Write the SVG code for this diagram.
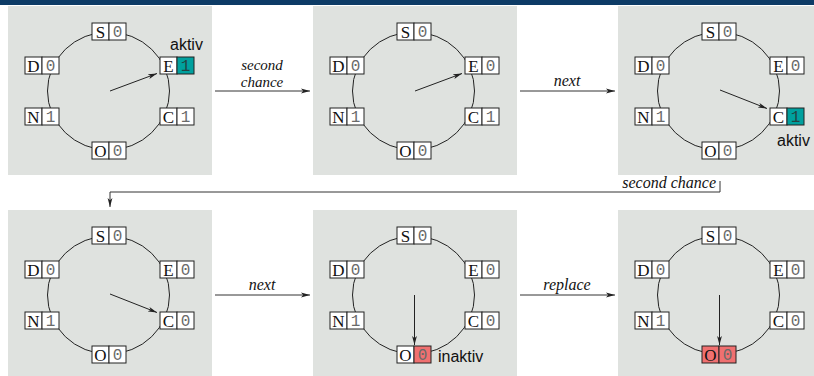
<svg xmlns="http://www.w3.org/2000/svg" width="814" height="376" viewBox="0 0 814 376">
<style>
.bg{fill:#dfe2df}
.ring{fill:none;stroke:#222;stroke-width:1}
.c{fill:#fff;stroke:#222;stroke-width:1}
.teal{fill:#00a09e;stroke:#222;stroke-width:1}
.red{fill:#f07070;stroke:#222;stroke-width:1}
.l{font-family:"Liberation Serif",serif;font-size:17px;fill:#111;text-anchor:middle}
.n{font-family:"Liberation Mono",monospace;font-size:16px;fill:#6a6a6a;text-anchor:middle}
.ptr{stroke:#222;stroke-width:1;fill:none;marker-end:url(#ah)}
.con{stroke:#333;stroke-width:1;fill:none;marker-end:url(#ah)}
.lab{font-family:"Liberation Serif",serif;font-style:italic;font-size:16px;fill:#111;text-anchor:middle}
.lab2{font-family:"Liberation Serif",serif;font-style:italic;font-size:15px;fill:#111;text-anchor:middle}
.st{font-family:"Liberation Sans",sans-serif;font-size:16px;fill:#111}
</style>
<defs>
<marker id="ah" markerWidth="10" markerHeight="6" refX="9" refY="3" orient="auto" markerUnits="userSpaceOnUse">
<path d="M0,0.6 L9,3 L0,5.4 L2.2,3 Z" fill="#222"/>
</marker>
</defs>
<rect x="0" y="0" width="814" height="5" fill="#0d3b66"/>

<g id="panel1">
<rect class="bg" x="8" y="6" width="204" height="169"/>
<ellipse class="ring" cx="108.5" cy="91" rx="61" ry="59"/>
<line class="ptr" x1="110" y1="91" x2="157" y2="73.5"/>
<g id="p1-S" transform="translate(92,23)"><rect class="c" width="17" height="17"/><rect class="c" x="17" width="17" height="17"/><text class="l" x="8.5" y="14.5">S</text><text class="n" x="25.5" y="14">0</text></g>
<g id="p1-D" transform="translate(25,57)"><rect class="c" width="17" height="17"/><rect class="c" x="17" width="17" height="17"/><text class="l" x="8.5" y="14.5">D</text><text class="n" x="25.5" y="14">0</text></g>
<g id="p1-E" transform="translate(160,57)"><rect class="c" width="17" height="17"/><rect class="teal" x="17" width="17" height="17"/><text class="l" x="8.5" y="14.5">E</text><text class="n" x="25.5" y="14" style="fill:#244">1</text></g>
<g id="p1-N" transform="translate(25,108)"><rect class="c" width="17" height="17"/><rect class="c" x="17" width="17" height="17"/><text class="l" x="8.5" y="14.5">N</text><text class="n" x="25.5" y="14">1</text></g>
<g id="p1-C" transform="translate(160,108)"><rect class="c" width="17" height="17"/><rect class="c" x="17" width="17" height="17"/><text class="l" x="8.5" y="14.5">C</text><text class="n" x="25.5" y="14">1</text></g>
<g id="p1-O" transform="translate(92,142)"><rect class="c" width="17" height="17"/><rect class="c" x="17" width="17" height="17"/><text class="l" x="8.5" y="14.5">O</text><text class="n" x="25.5" y="14">0</text></g>
<text class="st" x="170" y="50">aktiv</text>
</g>

<g id="panel2" transform="translate(305,0)">
<rect class="bg" x="8" y="6" width="204" height="169"/>
<ellipse class="ring" cx="108.5" cy="91" rx="61" ry="59"/>
<line class="ptr" x1="110" y1="91" x2="157" y2="73.5"/>
<g id="p2-S" transform="translate(92,23)"><rect class="c" width="17" height="17"/><rect class="c" x="17" width="17" height="17"/><text class="l" x="8.5" y="14.5">S</text><text class="n" x="25.5" y="14">0</text></g>
<g id="p2-D" transform="translate(25,57)"><rect class="c" width="17" height="17"/><rect class="c" x="17" width="17" height="17"/><text class="l" x="8.5" y="14.5">D</text><text class="n" x="25.5" y="14">0</text></g>
<g id="p2-E" transform="translate(160,57)"><rect class="c" width="17" height="17"/><rect class="c" x="17" width="17" height="17"/><text class="l" x="8.5" y="14.5">E</text><text class="n" x="25.5" y="14">0</text></g>
<g id="p2-N" transform="translate(25,108)"><rect class="c" width="17" height="17"/><rect class="c" x="17" width="17" height="17"/><text class="l" x="8.5" y="14.5">N</text><text class="n" x="25.5" y="14">1</text></g>
<g id="p2-C" transform="translate(160,108)"><rect class="c" width="17" height="17"/><rect class="c" x="17" width="17" height="17"/><text class="l" x="8.5" y="14.5">C</text><text class="n" x="25.5" y="14">1</text></g>
<g id="p2-O" transform="translate(92,142)"><rect class="c" width="17" height="17"/><rect class="c" x="17" width="17" height="17"/><text class="l" x="8.5" y="14.5">O</text><text class="n" x="25.5" y="14">0</text></g>
</g>

<g id="panel3" transform="translate(610,0)">
<rect class="bg" x="8" y="6" width="204" height="169"/>
<ellipse class="ring" cx="108.5" cy="91" rx="61" ry="59"/>
<line class="ptr" x1="110" y1="90" x2="157" y2="108.5"/>
<g id="p3-S" transform="translate(92,23)"><rect class="c" width="17" height="17"/><rect class="c" x="17" width="17" height="17"/><text class="l" x="8.5" y="14.5">S</text><text class="n" x="25.5" y="14">0</text></g>
<g id="p3-D" transform="translate(25,57)"><rect class="c" width="17" height="17"/><rect class="c" x="17" width="17" height="17"/><text class="l" x="8.5" y="14.5">D</text><text class="n" x="25.5" y="14">0</text></g>
<g id="p3-E" transform="translate(160,57)"><rect class="c" width="17" height="17"/><rect class="c" x="17" width="17" height="17"/><text class="l" x="8.5" y="14.5">E</text><text class="n" x="25.5" y="14">0</text></g>
<g id="p3-N" transform="translate(25,108)"><rect class="c" width="17" height="17"/><rect class="c" x="17" width="17" height="17"/><text class="l" x="8.5" y="14.5">N</text><text class="n" x="25.5" y="14">1</text></g>
<g id="p3-C" transform="translate(160,108)"><rect class="c" width="17" height="17"/><rect class="teal" x="17" width="17" height="17"/><text class="l" x="8.5" y="14.5">C</text><text class="n" x="25.5" y="14" style="fill:#244">1</text></g>
<g id="p3-O" transform="translate(92,142)"><rect class="c" width="17" height="17"/><rect class="c" x="17" width="17" height="17"/><text class="l" x="8.5" y="14.5">O</text><text class="n" x="25.5" y="14">0</text></g>
<text class="st" x="167" y="146">aktiv</text>
</g>

<g id="panel4" transform="translate(0,204)">
<rect class="bg" x="8" y="6" width="204" height="169"/>
<ellipse class="ring" cx="108.5" cy="91" rx="61" ry="59"/>
<line class="ptr" x1="110" y1="90" x2="157" y2="108.5"/>
<g id="p4-S" transform="translate(92,23)"><rect class="c" width="17" height="17"/><rect class="c" x="17" width="17" height="17"/><text class="l" x="8.5" y="14.5">S</text><text class="n" x="25.5" y="14">0</text></g>
<g id="p4-D" transform="translate(25,57)"><rect class="c" width="17" height="17"/><rect class="c" x="17" width="17" height="17"/><text class="l" x="8.5" y="14.5">D</text><text class="n" x="25.5" y="14">0</text></g>
<g id="p4-E" transform="translate(160,57)"><rect class="c" width="17" height="17"/><rect class="c" x="17" width="17" height="17"/><text class="l" x="8.5" y="14.5">E</text><text class="n" x="25.5" y="14">0</text></g>
<g id="p4-N" transform="translate(25,108)"><rect class="c" width="17" height="17"/><rect class="c" x="17" width="17" height="17"/><text class="l" x="8.5" y="14.5">N</text><text class="n" x="25.5" y="14">1</text></g>
<g id="p4-C" transform="translate(160,108)"><rect class="c" width="17" height="17"/><rect class="c" x="17" width="17" height="17"/><text class="l" x="8.5" y="14.5">C</text><text class="n" x="25.5" y="14">0</text></g>
<g id="p4-O" transform="translate(92,142)"><rect class="c" width="17" height="17"/><rect class="c" x="17" width="17" height="17"/><text class="l" x="8.5" y="14.5">O</text><text class="n" x="25.5" y="14">0</text></g>
</g>

<g id="panel5" transform="translate(305,204)">
<rect class="bg" x="8" y="6" width="204" height="169"/>
<ellipse class="ring" cx="108.5" cy="91" rx="61" ry="59"/>
<line class="ptr" x1="109.5" y1="91" x2="109.5" y2="141"/>
<g id="p5-S" transform="translate(92,23)"><rect class="c" width="17" height="17"/><rect class="c" x="17" width="17" height="17"/><text class="l" x="8.5" y="14.5">S</text><text class="n" x="25.5" y="14">0</text></g>
<g id="p5-D" transform="translate(25,57)"><rect class="c" width="17" height="17"/><rect class="c" x="17" width="17" height="17"/><text class="l" x="8.5" y="14.5">D</text><text class="n" x="25.5" y="14">0</text></g>
<g id="p5-E" transform="translate(160,57)"><rect class="c" width="17" height="17"/><rect class="c" x="17" width="17" height="17"/><text class="l" x="8.5" y="14.5">E</text><text class="n" x="25.5" y="14">0</text></g>
<g id="p5-N" transform="translate(25,108)"><rect class="c" width="17" height="17"/><rect class="c" x="17" width="17" height="17"/><text class="l" x="8.5" y="14.5">N</text><text class="n" x="25.5" y="14">1</text></g>
<g id="p5-C" transform="translate(160,108)"><rect class="c" width="17" height="17"/><rect class="c" x="17" width="17" height="17"/><text class="l" x="8.5" y="14.5">C</text><text class="n" x="25.5" y="14">0</text></g>
<g id="p5-O" transform="translate(92,142)"><rect class="c" width="17" height="17"/><rect class="red" x="17" width="17" height="17"/><text class="l" x="8.5" y="14.5">O</text><text class="n" x="25.5" y="14">0</text></g>
<text class="st" x="133" y="158">inaktiv</text>
</g>

<g id="panel6" transform="translate(610,204)">
<rect class="bg" x="8" y="6" width="204" height="169"/>
<ellipse class="ring" cx="108.5" cy="91" rx="61" ry="59"/>
<line class="ptr" x1="109.5" y1="91" x2="109.5" y2="141"/>
<g id="p6-S" transform="translate(92,23)"><rect class="c" width="17" height="17"/><rect class="c" x="17" width="17" height="17"/><text class="l" x="8.5" y="14.5">S</text><text class="n" x="25.5" y="14">0</text></g>
<g id="p6-D" transform="translate(25,57)"><rect class="c" width="17" height="17"/><rect class="c" x="17" width="17" height="17"/><text class="l" x="8.5" y="14.5">D</text><text class="n" x="25.5" y="14">0</text></g>
<g id="p6-E" transform="translate(160,57)"><rect class="c" width="17" height="17"/><rect class="c" x="17" width="17" height="17"/><text class="l" x="8.5" y="14.5">E</text><text class="n" x="25.5" y="14">0</text></g>
<g id="p6-N" transform="translate(25,108)"><rect class="c" width="17" height="17"/><rect class="c" x="17" width="17" height="17"/><text class="l" x="8.5" y="14.5">N</text><text class="n" x="25.5" y="14">1</text></g>
<g id="p6-C" transform="translate(160,108)"><rect class="c" width="17" height="17"/><rect class="c" x="17" width="17" height="17"/><text class="l" x="8.5" y="14.5">C</text><text class="n" x="25.5" y="14">0</text></g>
<g id="p6-O" transform="translate(92,142)"><rect class="red" width="17" height="17"/><rect class="red" x="17" width="17" height="17"/><text class="l" x="8.5" y="14.5">O</text><text class="n" x="25.5" y="14">0</text></g>
</g>

<g id="connectors">
<line class="con" x1="215" y1="91" x2="310" y2="91"/>
<text class="lab2" x="262" y="69.5">second</text>
<text class="lab2" x="262" y="87">chance</text>
<line class="con" x1="520" y1="91" x2="615" y2="91"/>
<text class="lab" x="567" y="86">next</text>
<polyline class="con" points="720,181 720,192 110,192 110,207"/>
<text class="lab" x="716" y="188" style="text-anchor:end">second chance</text>
<line class="con" x1="215" y1="295" x2="310" y2="295"/>
<text class="lab" x="262" y="290">next</text>
<line class="con" x1="520" y1="295" x2="615" y2="295"/>
<text class="lab" x="567" y="290">replace</text>
</g>
</svg>
